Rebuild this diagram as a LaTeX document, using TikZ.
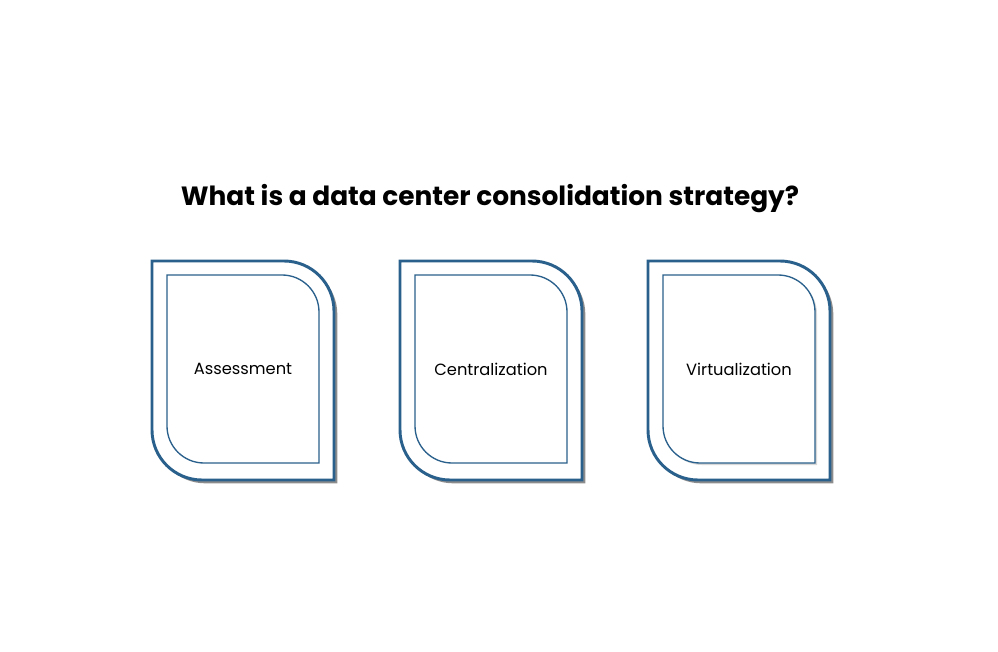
\documentclass[tikz,border=0pt]{standalone}
\usepackage{fontspec}
\setmainfont{Poppins}
\usepackage{tikz}
\usetikzlibrary{shadows}
\definecolor{cardblue}{RGB}{42,96,140}

\begin{document}
\begin{tikzpicture}
    [x=0.75pt,y=-0.75pt,
     cardout/.style={draw=cardblue,line width=2.2pt,fill=white,
        drop shadow={shadow xshift=2.5pt,shadow yshift=-2.5pt,opacity=0.6,fill=black!75}},
     cardin/.style={draw=cardblue,line width=1pt,fill=white},
     label/.style={font=\fontsize{12.2}{14}\selectfont,text=black}]
    \useasboundingbox (0,0) rectangle (998,652);
    \node[font=\fontsize{19.8}{24}\selectfont\bfseries] (title) at (490,199) {What is a data center consolidation strategy?};
    % first card
    \draw[cardout] (152,261) -- (284,261) arc[start angle=90,end angle=0,radius=37.5pt] -- (334,480) -- (202,480) arc[start angle=270,end angle=180,radius=37.5pt] -- cycle;
    \draw[cardin] (167,275) -- (282,275) arc[start angle=90,end angle=0,radius=27.75pt] -- (319,463) -- (204,463) arc[start angle=270,end angle=180,radius=27.75pt] -- cycle;
    % second card
    \draw[cardout] (400,261) -- (532,261) arc[start angle=90,end angle=0,radius=37.5pt] -- (582,480) -- (450,480) arc[start angle=270,end angle=180,radius=37.5pt] -- cycle;
    \draw[cardin] (415,275) -- (530,275) arc[start angle=90,end angle=0,radius=27.75pt] -- (567,463) -- (452,463) arc[start angle=270,end angle=180,radius=27.75pt] -- cycle;
    % third card
    \draw[cardout] (648,261) -- (780,261) arc[start angle=90,end angle=0,radius=37.5pt] -- (830,480) -- (698,480) arc[start angle=270,end angle=180,radius=37.5pt] -- cycle;
    \draw[cardin,drop shadow={shadow xshift=1.5pt,shadow yshift=-1.5pt,opacity=0.3}] (663,275) -- (778,275) arc[start angle=90,end angle=0,radius=27.75pt] -- (815,463) -- (700,463) arc[start angle=270,end angle=180,radius=27.75pt] -- cycle;
    \node[label] (assess) at (243,369) {Assessment};
    \node[label] (central) at (491,369) {Centralization};
    \node[label] (virtual) at (739,369) {Virtualization};
\end{tikzpicture}
\end{document}
